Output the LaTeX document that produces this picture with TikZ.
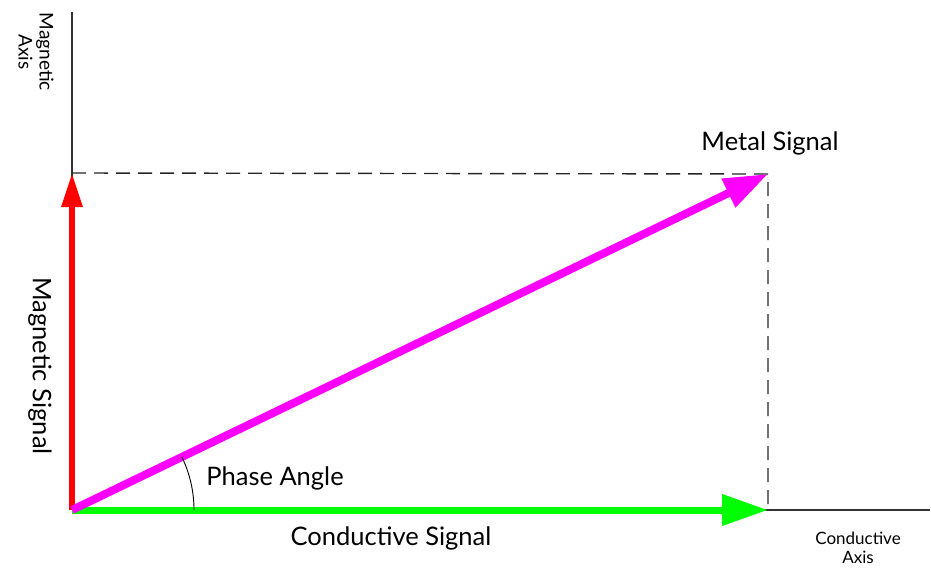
\documentclass[tikz,border=0pt]{standalone}
\usepackage{fontspec}
\setmainfont{Lato}
\usetikzlibrary{arrows.meta,positioning}
\definecolor{metal}{RGB}{255,0,255}
\definecolor{cond}{RGB}{0,255,0}
\definecolor{magn}{RGB}{255,0,0}

\begin{document}
\begin{tikzpicture}[x=1pt,y=-1pt,
  axis/.style={draw=black!80,line width=1.2pt},
  guide/.style={draw=black!85,line width=1.4pt,dash pattern=on 14pt off 8pt},
  vec/.style={line width=#1},
  lbl/.style={font=\fontsize{25.5}{28}\selectfont,inner sep=1pt},
  small/.style={font=\fontsize{17}{19}\selectfont,align=center,inner sep=1pt}]
  \useasboundingbox (0,0) rectangle (931,573);
  % axes
  \coordinate (o) at (72,510);
  \coordinate (ytop) at (72,12);
  \coordinate (xend) at (930,510);
  \coordinate (mag) at (72,173);
  \coordinate (con) at (768,510);
  \coordinate (met) at (768,174);
  \draw[axis] (o) -- (ytop);
  \draw[axis] (o) -- (xend);
  \draw[guide] (mag) -- (met) -- (con);
  % signals
  \draw[vec=7pt,cond,-{Triangle[length=46pt,width=30pt]}] (o) -- (con);
  \draw[vec=6pt,magn,-{Triangle[length=34pt,width=20pt]}] (o) -- (mag);
  \draw[vec=8pt,metal,-{Triangle[length=44pt,width=30pt]}] (o) -- (met);
  % phase angle
  \draw[black,line width=0.9pt] (194,510) arc[start angle=0,end angle=-25.8,radius=122];
  \node[lbl] (phase) at (275,478) {Phase Angle};
  \node[lbl] (csig) at (391,538) {Conductive Signal};
  \node[lbl] (msig) at (770,143) {Metal Signal};
  \node[lbl,rotate=-90] (magsig) at (40,366) {Magnetic Signal};
  \node[small] (caxis) at (858,548) {Conductive\\Axis};
  \node[small,font=\fontsize{19}{21}\selectfont,rotate=-90] (maxis) at (36,52) {Magnetic\\Axis};
\end{tikzpicture}
\end{document}
